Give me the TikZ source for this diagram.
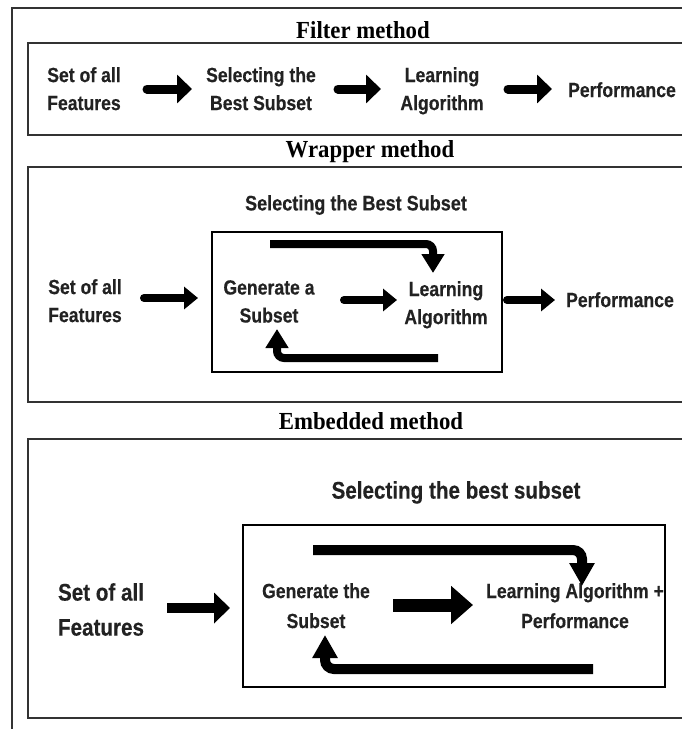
\documentclass[tikz,border=0pt]{standalone}
\usepackage{fontspec}
\newfontfamily\sansb{Liberation Sans}[FakeStretch=0.86, BoldFeatures={FakeBold=0.35}]
\newfontfamily\serifb{Liberation Serif}[FakeStretch=0.93]
\usetikzlibrary{arrows.meta}
\definecolor{ink}{HTML}{222222}
\begin{document}
\begin{tikzpicture}[x=1pt,y=-1pt,
  lbl/.style={font=\sansb\bfseries\fontsize{20.5}{28}\selectfont, align=center, inner sep=0pt, anchor=north, text=ink},
  lblb/.style={font=\sansb\bfseries\fontsize{24}{35}\selectfont, align=center, inner sep=0pt, anchor=north, text=ink},
  ttl/.style={font=\serifb\bfseries\fontsize{24.5}{28}\selectfont, inner sep=0pt, anchor=base, text=black},
  frame/.style={draw=black!80, line width=2pt},
  inbox/.style={draw=black, line width=2.5pt},
  fatF/.style={line width=9pt, line cap=round, -{Triangle[width=28pt,length=15pt]}},
  fatW/.style={line width=8pt, line cap=round, -{Triangle[width=22pt,length=14pt]}},
  loopW/.style={line width=8pt, rounded corners=7pt, -{Triangle[width=22pt,length=19pt]}},
  fatE/.style={line width=10pt, -{Triangle[width=30pt,length=16pt]}},
  fatEm/.style={line width=13pt, -{Triangle[width=37pt,length=22pt]}},
  loopE/.style={line width=10pt, rounded corners=9pt, -{Triangle[width=24pt,length=23pt]}}
]
\useasboundingbox (0,0) rectangle (682,729);
\clip (0,0) rectangle (682,729);
\fill[white] (0,0) rectangle (682,729);

% outer frame and panels
\draw[frame] (12,8) rectangle (700,745);
\draw[frame] (28,43) rectangle (700,135);
\draw[frame] (28,167) rectangle (700,402);
\draw[frame] (28,439) rectangle (700,718);
\draw[inbox] (212,232) rectangle (502,372);
\draw[inbox] (243,525) rectangle (665,687);

% titles
\node[ttl] (t1) at (363,38) {Filter method};
\node[ttl] (t2) at (370,157) {Wrapper method};
\node[ttl] (t3) at (371,429) {Embedded method};

% ---------- Filter ----------
\node[lbl] (fa) at (84,67) {Set of all\\Features};
\node[lbl] (fb) at (261,67) {Selecting the\\Best Subset};
\node[lbl] (fc) at (442,67) {Learning\\Algorithm};
\node[lbl] (fd) at (622,82) {Performance};
\coordinate (f1a) at (147,89); \coordinate (f1b) at (192,89);
\coordinate (f2a) at (338,89); \coordinate (f2b) at (381,89);
\coordinate (f3a) at (508,89); \coordinate (f3b) at (552,89);
\draw[fatF] (f1a) -- (f1b);
\draw[fatF] (f2a) -- (f2b);
\draw[fatF] (f3a) -- (f3b);

% ---------- Wrapper ----------
\node[lbl, font=\sansb\bfseries\fontsize{21}{28}\selectfont] (wt) at (356,195) {Selecting the Best Subset};
\node[lbl] (ws) at (85,279) {Set of all\\Features};
\node[lbl] (wg) at (269,280) {Generate a\\Subset};
\node[lbl] (wl) at (446,281) {Learning\\Algorithm};
\node[lbl] (wp) at (620,292) {Performance};
\coordinate (w1a) at (144,298); \coordinate (w1b) at (198,298);
\coordinate (w2a) at (344,300); \coordinate (w2b) at (397,300);
\coordinate (w3a) at (507,300); \coordinate (w3b) at (555,300);
\draw[fatW] (w1a) -- (w1b);
\draw[fatW] (w2a) -- (w2b);
\draw[fatW] (w3a) -- (w3b);
\coordinate (wt1) at (270,244); \coordinate (wt2) at (433,244); \coordinate (wt3) at (433,273);
\coordinate (wb1) at (438,358); \coordinate (wb2) at (277,358); \coordinate (wb3) at (277,329);
\draw[loopW] (wt1) -- (wt2) -- (wt3);
\draw[loopW] (wb1) -- (wb2) -- (wb3);

% ---------- Embedded ----------
\node[lblb] (et) at (456,481) {Selecting the best subset};
\node[lblb] (es) at (101,583) {Set of all\\Features};
\node[lbl, font=\sansb\bfseries\fontsize{20.5}{30}\selectfont] (eg) at (316,583) {Generate the\\Subset};
\node[lbl, font=\sansb\bfseries\fontsize{20.5}{30}\selectfont] (el) at (575,583) {Learning Algorithm +\\Performance};
\coordinate (e1a) at (167,608); \coordinate (e1b) at (230,608);
\coordinate (e2a) at (393,605); \coordinate (e2b) at (473,605);
\draw[fatE] (e1a) -- (e1b);
\draw[fatEm] (e2a) -- (e2b);
\coordinate (et1) at (313,550); \coordinate (et2) at (582,550); \coordinate (et3) at (582,586);
\coordinate (eb1) at (593,669); \coordinate (eb2) at (325,669); \coordinate (eb3) at (325,635);
\draw[loopE] (et1) -- (et2) -- (et3);
\draw[loopE] (eb1) -- (eb2) -- (eb3);
\end{tikzpicture}
\end{document}
